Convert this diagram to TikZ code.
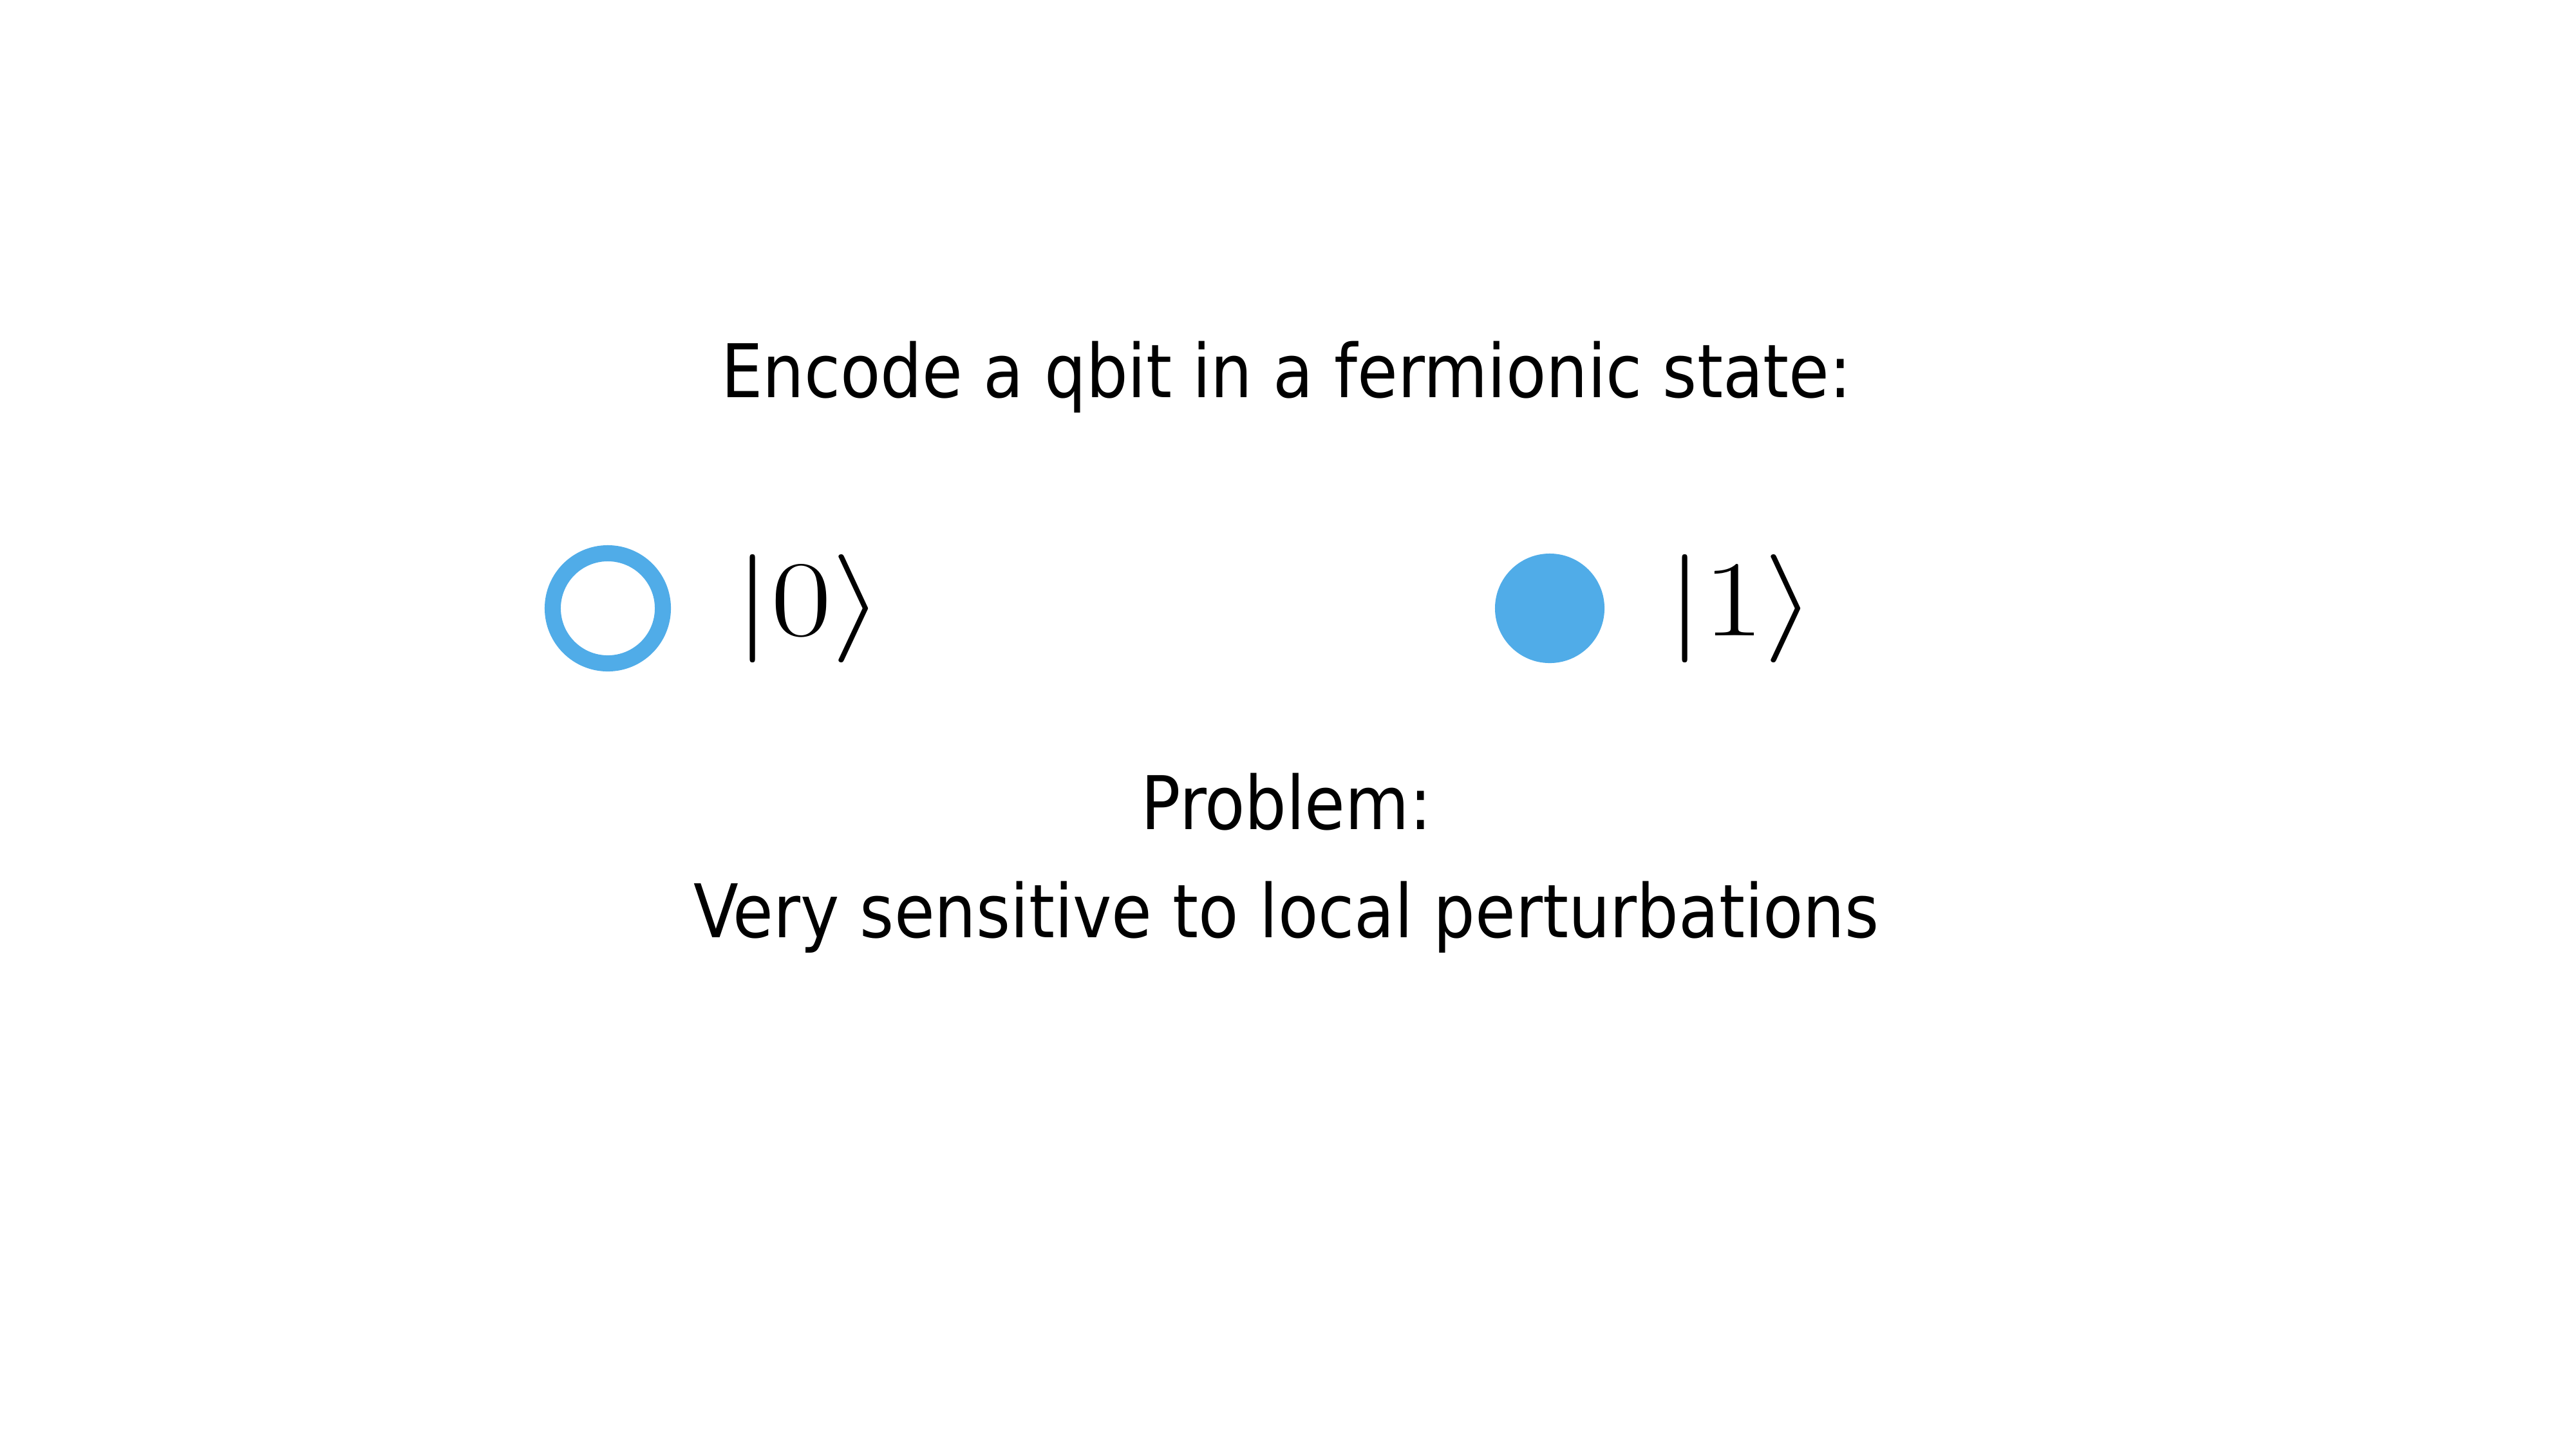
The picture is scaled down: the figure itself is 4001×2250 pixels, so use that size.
\documentclass[tikz,border=0pt]{standalone}
\usepackage{graphicx}
\usepackage{fontspec}
\setmainfont[FakeStretch=0.986]{DejaVu Sans Condensed}
\definecolor{qblue}{RGB}{80,172,232}
\tikzset{
  txt/.style={anchor=base, inner sep=0pt, font=\fontsize{32.7}{40}\selectfont},
  ketlbl/.style={anchor=base, inner sep=0pt, font=\fontsize{24.88}{30}\selectfont},
  emptystate/.style={circle, draw=qblue, line width=0.25cm, minimum size=1.71cm, inner sep=0pt},
  fullstate/.style={circle, fill=qblue, minimum size=1.70cm, inner sep=0pt}
}
\begin{document}
\begin{tikzpicture}[x=0.01cm,y=-0.01cm]
\useasboundingbox (0,0) rectangle (4001,2250);
\node[txt] (title) at (1998,617) {Encode a qbit in a fermionic state:};
\node[emptystate] (zero) at (944,945) {};
\node[fullstate] (one) at (2407,945) {};
\node[ketlbl] (ket0) at (1256,987) {\scalebox{2.35}[1.92]{$|0\rangle$}};
\node[ketlbl] (ket1) at (2704,987) {\scalebox{2.35}[1.92]{$|1\rangle$}};
\node[txt] (problem) at (1998,1288) {Problem:};
\node[txt] (detail) at (1998,1456) {Very sensitive to local perturbations};
\end{tikzpicture}
\end{document}
